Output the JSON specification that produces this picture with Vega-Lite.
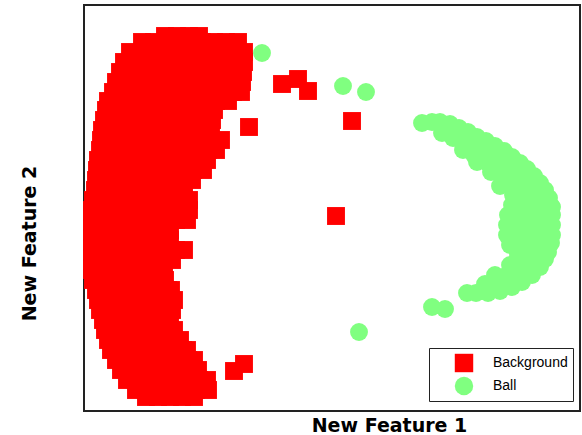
{
"$schema":"https://vega.github.io/schema/vega-lite/v6.json",
"width":496,"height":406,
"autosize":{"type":"none"},
"padding":{"left":84,"top":5,"right":2,"bottom":24},
"config":{"view":{"stroke":"#222","strokeWidth":2},"font":"DejaVu Sans"},
"data":{"values":[
{"x":165,"y":36,"c":"Background"},{"x":177,"y":36,"c":"Background"},{"x":189,"y":36,"c":"Background"},{"x":199,"y":36,"c":"Background"},
{"x":142,"y":42,"c":"Background"},{"x":154,"y":42,"c":"Background"},{"x":166,"y":42,"c":"Background"},{"x":178,"y":42,"c":"Background"},{"x":190,"y":42,"c":"Background"},{"x":202,"y":42,"c":"Background"},{"x":214,"y":42,"c":"Background"},{"x":226,"y":42,"c":"Background"},{"x":238,"y":42,"c":"Background"},
{"x":130,"y":52,"c":"Background"},{"x":142,"y":52,"c":"Background"},{"x":154,"y":52,"c":"Background"},{"x":166,"y":52,"c":"Background"},{"x":178,"y":52,"c":"Background"},{"x":190,"y":52,"c":"Background"},{"x":202,"y":52,"c":"Background"},{"x":214,"y":52,"c":"Background"},{"x":226,"y":52,"c":"Background"},{"x":238,"y":52,"c":"Background"},{"x":244,"y":52,"c":"Background"},
{"x":124,"y":62,"c":"Background"},{"x":136,"y":62,"c":"Background"},{"x":148,"y":62,"c":"Background"},{"x":160,"y":62,"c":"Background"},{"x":172,"y":62,"c":"Background"},{"x":184,"y":62,"c":"Background"},{"x":196,"y":62,"c":"Background"},{"x":208,"y":62,"c":"Background"},{"x":220,"y":62,"c":"Background"},{"x":232,"y":62,"c":"Background"},{"x":244,"y":62,"c":"Background"},
{"x":120,"y":72,"c":"Background"},{"x":132,"y":72,"c":"Background"},{"x":144,"y":72,"c":"Background"},{"x":156,"y":72,"c":"Background"},{"x":168,"y":72,"c":"Background"},{"x":180,"y":72,"c":"Background"},{"x":192,"y":72,"c":"Background"},{"x":204,"y":72,"c":"Background"},{"x":216,"y":72,"c":"Background"},{"x":228,"y":72,"c":"Background"},{"x":240,"y":72,"c":"Background"},{"x":243,"y":72,"c":"Background"},
{"x":116,"y":82,"c":"Background"},{"x":128,"y":82,"c":"Background"},{"x":140,"y":82,"c":"Background"},{"x":152,"y":82,"c":"Background"},{"x":164,"y":82,"c":"Background"},{"x":176,"y":82,"c":"Background"},{"x":188,"y":82,"c":"Background"},{"x":200,"y":82,"c":"Background"},{"x":212,"y":82,"c":"Background"},{"x":224,"y":82,"c":"Background"},{"x":236,"y":82,"c":"Background"},{"x":242,"y":82,"c":"Background"},
{"x":113,"y":92,"c":"Background"},{"x":125,"y":92,"c":"Background"},{"x":137,"y":92,"c":"Background"},{"x":149,"y":92,"c":"Background"},{"x":161,"y":92,"c":"Background"},{"x":173,"y":92,"c":"Background"},{"x":185,"y":92,"c":"Background"},{"x":197,"y":92,"c":"Background"},{"x":209,"y":92,"c":"Background"},{"x":221,"y":92,"c":"Background"},{"x":233,"y":92,"c":"Background"},{"x":241,"y":92,"c":"Background"},
{"x":108,"y":101,"c":"Background"},{"x":120,"y":101,"c":"Background"},{"x":132,"y":101,"c":"Background"},{"x":144,"y":101,"c":"Background"},{"x":156,"y":101,"c":"Background"},{"x":168,"y":101,"c":"Background"},{"x":180,"y":101,"c":"Background"},{"x":192,"y":101,"c":"Background"},{"x":204,"y":101,"c":"Background"},{"x":216,"y":101,"c":"Background"},{"x":228,"y":101,"c":"Background"},
{"x":106,"y":110,"c":"Background"},{"x":118,"y":110,"c":"Background"},{"x":130,"y":110,"c":"Background"},{"x":142,"y":110,"c":"Background"},{"x":154,"y":110,"c":"Background"},{"x":166,"y":110,"c":"Background"},{"x":178,"y":110,"c":"Background"},{"x":190,"y":110,"c":"Background"},{"x":202,"y":110,"c":"Background"},{"x":214,"y":110,"c":"Background"},
{"x":104,"y":120,"c":"Background"},{"x":116,"y":120,"c":"Background"},{"x":128,"y":120,"c":"Background"},{"x":140,"y":120,"c":"Background"},{"x":152,"y":120,"c":"Background"},{"x":164,"y":120,"c":"Background"},{"x":176,"y":120,"c":"Background"},{"x":188,"y":120,"c":"Background"},{"x":200,"y":120,"c":"Background"},{"x":212,"y":120,"c":"Background"},
{"x":102,"y":130,"c":"Background"},{"x":114,"y":130,"c":"Background"},{"x":126,"y":130,"c":"Background"},{"x":138,"y":130,"c":"Background"},{"x":150,"y":130,"c":"Background"},{"x":162,"y":130,"c":"Background"},{"x":174,"y":130,"c":"Background"},{"x":186,"y":130,"c":"Background"},{"x":198,"y":130,"c":"Background"},{"x":211,"y":130,"c":"Background"},
{"x":101,"y":140,"c":"Background"},{"x":113,"y":140,"c":"Background"},{"x":125,"y":140,"c":"Background"},{"x":137,"y":140,"c":"Background"},{"x":149,"y":140,"c":"Background"},{"x":161,"y":140,"c":"Background"},{"x":173,"y":140,"c":"Background"},{"x":185,"y":140,"c":"Background"},{"x":197,"y":140,"c":"Background"},{"x":209,"y":140,"c":"Background"},{"x":221,"y":140,"c":"Background"},
{"x":100,"y":150,"c":"Background"},{"x":112,"y":150,"c":"Background"},{"x":124,"y":150,"c":"Background"},{"x":136,"y":150,"c":"Background"},{"x":148,"y":150,"c":"Background"},{"x":160,"y":150,"c":"Background"},{"x":172,"y":150,"c":"Background"},{"x":184,"y":150,"c":"Background"},{"x":196,"y":150,"c":"Background"},{"x":208,"y":150,"c":"Background"},{"x":216,"y":150,"c":"Background"},
{"x":98,"y":160,"c":"Background"},{"x":110,"y":160,"c":"Background"},{"x":122,"y":160,"c":"Background"},{"x":134,"y":160,"c":"Background"},{"x":146,"y":160,"c":"Background"},{"x":158,"y":160,"c":"Background"},{"x":170,"y":160,"c":"Background"},{"x":182,"y":160,"c":"Background"},{"x":194,"y":160,"c":"Background"},{"x":207,"y":160,"c":"Background"},
{"x":97,"y":170,"c":"Background"},{"x":109,"y":170,"c":"Background"},{"x":121,"y":170,"c":"Background"},{"x":133,"y":170,"c":"Background"},{"x":145,"y":170,"c":"Background"},{"x":157,"y":170,"c":"Background"},{"x":169,"y":170,"c":"Background"},{"x":181,"y":170,"c":"Background"},{"x":193,"y":170,"c":"Background"},{"x":203,"y":170,"c":"Background"},
{"x":96,"y":180,"c":"Background"},{"x":108,"y":180,"c":"Background"},{"x":120,"y":180,"c":"Background"},{"x":132,"y":180,"c":"Background"},{"x":144,"y":180,"c":"Background"},{"x":156,"y":180,"c":"Background"},{"x":168,"y":180,"c":"Background"},{"x":180,"y":180,"c":"Background"},{"x":192,"y":180,"c":"Background"},
{"x":95,"y":190,"c":"Background"},{"x":107,"y":190,"c":"Background"},{"x":119,"y":190,"c":"Background"},{"x":131,"y":190,"c":"Background"},{"x":143,"y":190,"c":"Background"},{"x":155,"y":190,"c":"Background"},{"x":167,"y":190,"c":"Background"},{"x":179,"y":190,"c":"Background"},{"x":184,"y":190,"c":"Background"},
{"x":93,"y":200,"c":"Background"},{"x":105,"y":200,"c":"Background"},{"x":117,"y":200,"c":"Background"},{"x":129,"y":200,"c":"Background"},{"x":141,"y":200,"c":"Background"},{"x":153,"y":200,"c":"Background"},{"x":165,"y":200,"c":"Background"},{"x":177,"y":200,"c":"Background"},{"x":189,"y":200,"c":"Background"},
{"x":92,"y":210,"c":"Background"},{"x":104,"y":210,"c":"Background"},{"x":116,"y":210,"c":"Background"},{"x":128,"y":210,"c":"Background"},{"x":140,"y":210,"c":"Background"},{"x":152,"y":210,"c":"Background"},{"x":164,"y":210,"c":"Background"},{"x":176,"y":210,"c":"Background"},{"x":189,"y":210,"c":"Background"},
{"x":92,"y":220,"c":"Background"},{"x":104,"y":220,"c":"Background"},{"x":116,"y":220,"c":"Background"},{"x":128,"y":220,"c":"Background"},{"x":140,"y":220,"c":"Background"},{"x":152,"y":220,"c":"Background"},{"x":164,"y":220,"c":"Background"},{"x":176,"y":220,"c":"Background"},{"x":187,"y":220,"c":"Background"},
{"x":92,"y":230,"c":"Background"},{"x":104,"y":230,"c":"Background"},{"x":116,"y":230,"c":"Background"},{"x":128,"y":230,"c":"Background"},{"x":140,"y":230,"c":"Background"},{"x":152,"y":230,"c":"Background"},{"x":164,"y":230,"c":"Background"},{"x":170,"y":230,"c":"Background"},
{"x":92,"y":240,"c":"Background"},{"x":104,"y":240,"c":"Background"},{"x":116,"y":240,"c":"Background"},{"x":128,"y":240,"c":"Background"},{"x":140,"y":240,"c":"Background"},{"x":152,"y":240,"c":"Background"},{"x":164,"y":240,"c":"Background"},{"x":170,"y":240,"c":"Background"},
{"x":92,"y":250,"c":"Background"},{"x":104,"y":250,"c":"Background"},{"x":116,"y":250,"c":"Background"},{"x":128,"y":250,"c":"Background"},{"x":140,"y":250,"c":"Background"},{"x":152,"y":250,"c":"Background"},{"x":164,"y":250,"c":"Background"},{"x":176,"y":250,"c":"Background"},{"x":184,"y":250,"c":"Background"},
{"x":92,"y":260,"c":"Background"},{"x":104,"y":260,"c":"Background"},{"x":116,"y":260,"c":"Background"},{"x":128,"y":260,"c":"Background"},{"x":140,"y":260,"c":"Background"},{"x":152,"y":260,"c":"Background"},{"x":164,"y":260,"c":"Background"},{"x":172,"y":260,"c":"Background"},
{"x":92,"y":270,"c":"Background"},{"x":104,"y":270,"c":"Background"},{"x":116,"y":270,"c":"Background"},{"x":128,"y":270,"c":"Background"},{"x":140,"y":270,"c":"Background"},{"x":152,"y":270,"c":"Background"},{"x":164,"y":270,"c":"Background"},
{"x":93,"y":280,"c":"Background"},{"x":105,"y":280,"c":"Background"},{"x":117,"y":280,"c":"Background"},{"x":129,"y":280,"c":"Background"},{"x":141,"y":280,"c":"Background"},{"x":153,"y":280,"c":"Background"},{"x":165,"y":280,"c":"Background"},
{"x":96,"y":290,"c":"Background"},{"x":108,"y":290,"c":"Background"},{"x":120,"y":290,"c":"Background"},{"x":132,"y":290,"c":"Background"},{"x":144,"y":290,"c":"Background"},{"x":156,"y":290,"c":"Background"},{"x":168,"y":290,"c":"Background"},{"x":171,"y":290,"c":"Background"},
{"x":98,"y":300,"c":"Background"},{"x":110,"y":300,"c":"Background"},{"x":122,"y":300,"c":"Background"},{"x":134,"y":300,"c":"Background"},{"x":146,"y":300,"c":"Background"},{"x":158,"y":300,"c":"Background"},{"x":170,"y":300,"c":"Background"},{"x":174,"y":300,"c":"Background"},
{"x":100,"y":310,"c":"Background"},{"x":112,"y":310,"c":"Background"},{"x":124,"y":310,"c":"Background"},{"x":136,"y":310,"c":"Background"},{"x":148,"y":310,"c":"Background"},{"x":160,"y":310,"c":"Background"},{"x":172,"y":310,"c":"Background"},
{"x":103,"y":320,"c":"Background"},{"x":115,"y":320,"c":"Background"},{"x":127,"y":320,"c":"Background"},{"x":139,"y":320,"c":"Background"},{"x":151,"y":320,"c":"Background"},{"x":163,"y":320,"c":"Background"},{"x":170,"y":320,"c":"Background"},
{"x":105,"y":330,"c":"Background"},{"x":117,"y":330,"c":"Background"},{"x":129,"y":330,"c":"Background"},{"x":141,"y":330,"c":"Background"},{"x":153,"y":330,"c":"Background"},{"x":165,"y":330,"c":"Background"},{"x":174,"y":330,"c":"Background"},
{"x":108,"y":340,"c":"Background"},{"x":120,"y":340,"c":"Background"},{"x":132,"y":340,"c":"Background"},{"x":144,"y":340,"c":"Background"},{"x":156,"y":340,"c":"Background"},{"x":168,"y":340,"c":"Background"},{"x":180,"y":340,"c":"Background"},
{"x":111,"y":350,"c":"Background"},{"x":123,"y":350,"c":"Background"},{"x":135,"y":350,"c":"Background"},{"x":147,"y":350,"c":"Background"},{"x":159,"y":350,"c":"Background"},{"x":171,"y":350,"c":"Background"},{"x":183,"y":350,"c":"Background"},{"x":187,"y":350,"c":"Background"},
{"x":116,"y":360,"c":"Background"},{"x":128,"y":360,"c":"Background"},{"x":140,"y":360,"c":"Background"},{"x":152,"y":360,"c":"Background"},{"x":164,"y":360,"c":"Background"},{"x":176,"y":360,"c":"Background"},{"x":188,"y":360,"c":"Background"},{"x":194,"y":360,"c":"Background"},
{"x":121,"y":370,"c":"Background"},{"x":133,"y":370,"c":"Background"},{"x":145,"y":370,"c":"Background"},{"x":157,"y":370,"c":"Background"},{"x":169,"y":370,"c":"Background"},{"x":181,"y":370,"c":"Background"},{"x":193,"y":370,"c":"Background"},{"x":198,"y":370,"c":"Background"},
{"x":127,"y":380,"c":"Background"},{"x":139,"y":380,"c":"Background"},{"x":151,"y":380,"c":"Background"},{"x":163,"y":380,"c":"Background"},{"x":175,"y":380,"c":"Background"},{"x":187,"y":380,"c":"Background"},{"x":199,"y":380,"c":"Background"},{"x":207,"y":380,"c":"Background"},
{"x":136,"y":390,"c":"Background"},{"x":148,"y":390,"c":"Background"},{"x":160,"y":390,"c":"Background"},{"x":172,"y":390,"c":"Background"},{"x":184,"y":390,"c":"Background"},{"x":196,"y":390,"c":"Background"},{"x":208,"y":390,"c":"Background"},
{"x":146,"y":397,"c":"Background"},{"x":158,"y":397,"c":"Background"},{"x":170,"y":397,"c":"Background"},{"x":182,"y":397,"c":"Background"},{"x":194,"y":397,"c":"Background"},
{"x":249,"y":127,"c":"Background"},{"x":282,"y":84,"c":"Background"},{"x":298,"y":79,"c":"Background"},{"x":308,"y":91,"c":"Background"},{"x":352,"y":121,"c":"Background"},{"x":336,"y":216,"c":"Background"},{"x":234,"y":371,"c":"Background"},{"x":244,"y":364,"c":"Background"},
{"x":262,"y":53,"c":"Ball"},{"x":343,"y":86,"c":"Ball"},{"x":366,"y":92,"c":"Ball"},{"x":359,"y":332,"c":"Ball"},{"x":432,"y":307,"c":"Ball"},{"x":445,"y":309,"c":"Ball"},
{"x":422,"y":123,"c":"Ball"},{"x":432,"y":122,"c":"Ball"},{"x":440,"y":122,"c":"Ball"},{"x":442,"y":133,"c":"Ball"},{"x":450,"y":124,"c":"Ball"},{"x":453,"y":138,"c":"Ball"},{"x":459,"y":128,"c":"Ball"},{"x":462,"y":142,"c":"Ball"},{"x":463,"y":150,"c":"Ball"},
{"x":468,"y":132,"c":"Ball"},{"x":477,"y":137,"c":"Ball"},{"x":486,"y":141,"c":"Ball"},{"x":495,"y":146,"c":"Ball"},{"x":504,"y":151,"c":"Ball"},{"x":512,"y":157,"c":"Ball"},{"x":520,"y":163,"c":"Ball"},{"x":527,"y":169,"c":"Ball"},{"x":534,"y":176,"c":"Ball"},{"x":540,"y":183,"c":"Ball"},{"x":545,"y":190,"c":"Ball"},{"x":549,"y":198,"c":"Ball"},{"x":551,"y":206,"c":"Ball"},
{"x":472,"y":146,"c":"Ball"},{"x":474,"y":155,"c":"Ball"},{"x":477,"y":162,"c":"Ball"},{"x":486,"y":152,"c":"Ball"},{"x":488,"y":163,"c":"Ball"},{"x":491,"y":172,"c":"Ball"},
{"x":498,"y":158,"c":"Ball"},{"x":500,"y":168,"c":"Ball"},{"x":503,"y":180,"c":"Ball"},{"x":510,"y":166,"c":"Ball"},{"x":512,"y":176,"c":"Ball"},{"x":520,"y":172,"c":"Ball"},{"x":522,"y":180,"c":"Ball"},{"x":530,"y":178,"c":"Ball"},{"x":532,"y":186,"c":"Ball"},{"x":542,"y":192,"c":"Ball"},
{"x":500,"y":186,"c":"Ball"},{"x":513,"y":187,"c":"Ball"},{"x":526,"y":187,"c":"Ball"},{"x":538,"y":188,"c":"Ball"},
{"x":513,"y":195,"c":"Ball"},{"x":525,"y":195,"c":"Ball"},{"x":537,"y":195,"c":"Ball"},{"x":547,"y":197,"c":"Ball"},
{"x":512,"y":205,"c":"Ball"},{"x":524,"y":205,"c":"Ball"},{"x":536,"y":205,"c":"Ball"},{"x":548,"y":205,"c":"Ball"},{"x":552,"y":207,"c":"Ball"},
{"x":508,"y":215,"c":"Ball"},{"x":520,"y":215,"c":"Ball"},{"x":532,"y":215,"c":"Ball"},{"x":544,"y":215,"c":"Ball"},{"x":552,"y":215,"c":"Ball"},
{"x":507,"y":225,"c":"Ball"},{"x":519,"y":225,"c":"Ball"},{"x":531,"y":225,"c":"Ball"},{"x":543,"y":225,"c":"Ball"},{"x":552,"y":225,"c":"Ball"},
{"x":507,"y":235,"c":"Ball"},{"x":519,"y":235,"c":"Ball"},{"x":531,"y":235,"c":"Ball"},{"x":543,"y":235,"c":"Ball"},{"x":552,"y":235,"c":"Ball"},
{"x":510,"y":245,"c":"Ball"},{"x":522,"y":245,"c":"Ball"},{"x":534,"y":245,"c":"Ball"},{"x":546,"y":245,"c":"Ball"},{"x":551,"y":243,"c":"Ball"},
{"x":518,"y":255,"c":"Ball"},{"x":530,"y":255,"c":"Ball"},{"x":542,"y":255,"c":"Ball"},{"x":548,"y":252,"c":"Ball"},
{"x":510,"y":265,"c":"Ball"},{"x":522,"y":265,"c":"Ball"},{"x":534,"y":265,"c":"Ball"},{"x":545,"y":259,"c":"Ball"},
{"x":495,"y":275,"c":"Ball"},{"x":507,"y":275,"c":"Ball"},{"x":519,"y":275,"c":"Ball"},{"x":532,"y":275,"c":"Ball"},{"x":540,"y":267,"c":"Ball"},
{"x":485,"y":284,"c":"Ball"},{"x":497,"y":284,"c":"Ball"},{"x":509,"y":284,"c":"Ball"},{"x":522,"y":282,"c":"Ball"},
{"x":467,"y":293,"c":"Ball"},{"x":476,"y":293,"c":"Ball"},{"x":488,"y":293,"c":"Ball"},{"x":500,"y":291,"c":"Ball"},{"x":512,"y":287,"c":"Ball"}
]},
"mark":{"type":"point","filled":true,"opacity":1,"size":320},
"encoding":{
"x":{"field":"x","type":"quantitative","scale":{"domain":[84,580],"nice":false,"zero":false},
"axis":{"title":"New Feature 1","domain":false,"ticks":false,"labels":false,"grid":false,"titleFont":"DejaVu Sans","titleFontSize":19,"titleFontWeight":"bold","titleColor":"#000","titleX":305,"titleY":20,"titleBaseline":"alphabetic","titleAlign":"center"}},
"y":{"field":"y","type":"quantitative","scale":{"domain":[5,411],"reverse":true,"nice":false,"zero":false},
"axis":{"title":"New Feature 2","domain":false,"ticks":false,"labels":false,"grid":false,"titleFont":"DejaVu Sans","titleFontSize":19,"titleFontWeight":"bold","titleColor":"#000","titleAngle":-90,"titleX":-55,"titleY":238,"titleAlign":"center","titleBaseline":"middle"}},
"color":{"field":"c","type":"nominal","scale":{"domain":["Background","Ball"],"range":["#ff0000","#80ff80"]},
"legend":{"title":null,"orient":"none","legendX":345,"legendY":343,"strokeColor":"#222","fillColor":"#fff","padding":5,"symbolOffset":20,"labelOffset":19,"labelFont":"Liberation Sans","labelFontSize":14,"labelColor":"#000","symbolSize":340,"rowPadding":3,
"encode":{"legend":{"update":{"strokeWidth":{"value":2}}}}}},
"shape":{"field":"c","type":"nominal","scale":{"domain":["Background","Ball"],"range":["square","circle"]}}
}
}
